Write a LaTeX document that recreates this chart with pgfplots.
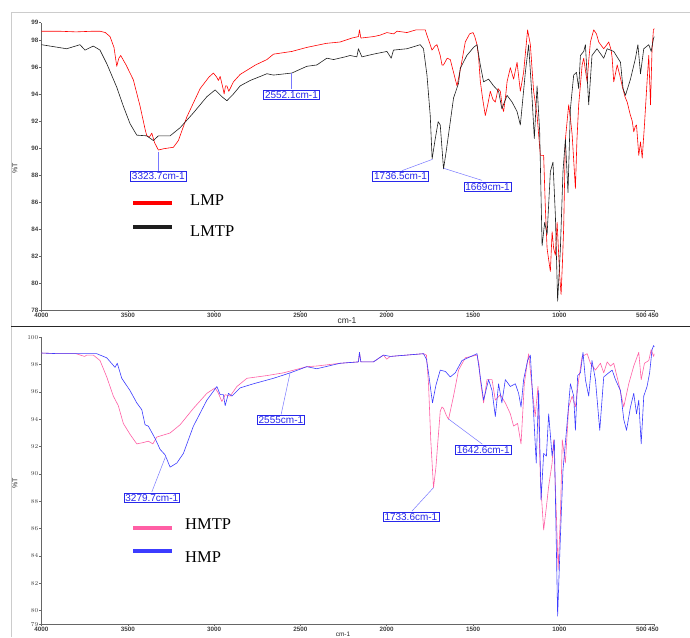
\documentclass[border=0pt]{standalone}
\usepackage{pgfplots}
\pgfplotsset{compat=1.18}
\usepackage{pgfplotstable}
\usepackage{fontspec}
\setmainfont{Liberation Sans}
\newfontfamily\legfont{Liberation Serif}

\definecolor{lmp}{RGB}{255,0,0}
\definecolor{lmtp}{RGB}{30,30,30}
\definecolor{hmtp}{RGB}{255,95,165}
\definecolor{hmp}{RGB}{60,60,255}
\definecolor{annot}{RGB}{40,40,235}
\definecolor{leader}{RGB}{120,120,255}

% top panel, LMP (red)
\pgfplotstableread{
wn T
4000 98.65
3900 98.65
3800 98.6
3700 98.65
3661 98.65
3630 98.55
3603 98.25
3580 97.45
3564 96.05
3552 96.65
3541 96.85
3510 96.15
3468 95.05
3429 93.1
3400 91.4
3390 90.9
3375 90.8
3361 91.1
3345 90.4
3323 89.85
3290 89.95
3236 90.05
3207 90.55
3158 92.3
3081 94.4
3030 95.25
3004 95.55
2985 95.25
2975 95.0
2965 95.3
2950 94.5
2942 94.0
2934 94.6
2926 94.6
2915 94.2
2907 94.4
2888 94.9
2849 95.45
2760 96.15
2694 96.55
2656 96.95
2550 97.15
2463 97.45
2350 97.75
2270 97.85
2200 98.15
2164 98.25
2158 98.75
2150 98.15
2144 98.15
2077 98.25
2040 98.35
1999 98.55
1960 98.45
1940 98.65
1883 98.55
1830 98.75
1796 98.75
1777 98.75
1767 98.35
1748 97.65
1738 97.25
1720 97.55
1709 97.65
1690 96.85
1680 96.15
1671 96.15
1650 96.65
1632 96.55
1610 95.45
1593 94.6
1570 96.05
1545 97.85
1520 98.45
1500 98.55
1490 98.25
1477 97.65
1468 96.75
1458 94.95
1445 93.7
1429 92.4
1415 93.2
1400 94.2
1385 93.6
1371 93.4
1355 94.4
1342 94.2
1330 93.0
1323 92.7
1310 94.0
1303 94.9
1284 95.95
1265 95.1
1245 96.35
1226 94.2
1207 95.6
1195 97.25
1184 98.75
1168 97.65
1149 94.2
1129 92.4
1110 89.45
1091 89.45
1081 85.5
1071 82.55
1060 81.55
1052 80.85
1042 83.8
1033 82.55
1023 82.05
1013 84.5
998 80.55
990 79.15
982 81.55
975 84.1
965 90.65
946 93.2
936 92.2
926 91.0
907 87.0
898 90.65
888 93.2
868 96.15
859 96.65
849 95.75
839 94.9
830 96.45
820 97.85
801 98.75
785 98.45
772 97.85
755 97.55
743 97.35
725 97.65
714 97.85
700 97.25
694 96.65
685 94.9
675 95.5
665 96.15
650 95.4
636 94.6
620 93.8
607 93.4
590 92.5
578 92.0
569 91.2
560 91.6
553 91.7
540 89.45
530 90.45
520 89.25
507 91.7
492 94.9
482 96.85
472 93.2
463 97.35
455 98.75
450 98.85
}\lmpdata

% top panel, LMTP (black)
\pgfplotstableread{
wn T
4000 97.65
3854 97.35
3777 97.65
3748 97.25
3700 97.55
3661 97.25
3622 96.25
3564 94.5
3526 93.1
3487 91.8
3448 90.95
3390 90.9
3352 90.55
3323 90.9
3255 90.9
3197 91.5
3120 92.6
3042 93.8
2994 94.3
2955 93.8
2926 93.5
2888 94.0
2849 94.6
2791 95.0
2752 95.2
2694 95.5
2656 95.4
2550 95.55
2463 96.05
2405 96.15
2347 96.65
2308 96.55
2241 96.75
2212 96.85
2173 96.75
2164 97.35
2144 96.75
2077 96.95
1999 97.15
1974 96.65
1961 97.25
1883 97.35
1806 97.65
1787 97.35
1767 95.4
1748 92.4
1737 89.2
1720 90.6
1702 91.95
1690 91.7
1671 88.45
1655 89.8
1642 91.0
1613 93.7
1584 94.8
1574 95.9
1536 96.85
1497 97.45
1477 97.65
1458 96.15
1439 94.9
1410 95.1
1381 94.6
1352 94.2
1333 92.9
1303 93.9
1274 93.4
1245 92.7
1226 91.7
1197 95.6
1178 97.65
1158 93.7
1145 90.7
1129 94.6
1114 91.2
1100 82.75
1085 84.5
1071 83.6
1052 88.25
1037 88.95
1023 85.0
1010 78.65
994 82.55
979 88.25
965 90.65
950 86.7
936 92.9
917 95.4
901 95.6
888 94.4
878 96.85
859 97.15
849 97.65
830 93.2
811 96.85
782 97.35
743 96.65
723 97.35
685 97.15
646 96.35
631 94.4
617 93.9
588 95.1
559 96.65
545 97.65
530 95.5
511 97.35
482 97.65
468 97.15
454 98.15
450 98.25
}\lmtpdata

% bottom panel, HMTP (pink)
\pgfplotstableread{
wn T
4000 98.85
3900 98.8
3800 98.8
3750 98.6
3738 98.7
3700 98.7
3661 98.3
3622 97.1
3584 95.7
3555 95.0
3526 93.7
3487 92.9
3448 92.2
3410 92.3
3381 92.4
3355 92.2
3332 92.7
3255 93.0
3197 93.6
3120 94.8
3042 95.9
2994 96.3
2975 95.9
2955 95.3
2936 95.8
2907 95.7
2868 96.4
2810 97.0
2694 97.2
2598 97.4
2463 97.85
2405 97.9
2270 98.1
2164 98.2
2158 98.9
2150 98.2
2077 98.2
2019 98.7
2000 98.4
1980 98.6
1883 98.7
1787 98.8
1770 98.7
1758 96.6
1745 92.5
1729 89.0
1715 90.5
1706 92.0
1690 94.6
1680 94.9
1671 94.8
1655 94.3
1642 94.0
1613 95.7
1584 97.6
1545 98.5
1477 98.7
1465 98.0
1458 96.9
1439 95.2
1419 96.9
1390 96.9
1371 95.4
1342 95.8
1313 95.2
1284 94.4
1265 93.5
1242 93.7
1222 92.2
1203 96.6
1178 98.8
1153 95.7
1140 94.2
1124 96.4
1110 89.6
1091 85.9
1075 87.6
1062 89.1
1042 90.8
1033 92.5
1017 86.9
1007 83.0
994 86.9
983 92.5
965 90.8
946 94.9
926 95.7
907 94.9
888 96.9
868 98.6
839 98.8
820 98.1
791 97.6
762 98.1
743 97.4
723 98.2
704 97.9
685 98.1
656 96.6
627 94.9
598 96.6
569 97.9
540 98.9
526 96.9
507 98.1
482 98.3
468 99.1
454 98.6
450 98.8
}\hmtpdata

% bottom panel, HMP (blue)
\pgfplotstableread{
wn T
4000 98.85
3900 98.8
3800 98.8
3680 98.8
3622 98.5
3574 97.8
3561 98.1
3535 97.0
3487 96.1
3448 95.2
3419 94.7
3400 93.6
3381 93.5
3342 92.6
3313 91.8
3284 91.4
3255 90.5
3216 90.8
3178 91.5
3120 93.5
3042 95.4
2984 96.4
2965 95.8
2946 95.8
2936 95.0
2917 95.9
2897 95.7
2849 96.3
2772 96.6
2656 97.0
2559 97.4
2463 97.85
2405 97.7
2270 98.1
2164 98.2
2158 98.9
2150 98.2
2077 98.2
2019 98.7
1980 98.6
1883 98.7
1787 98.8
1770 98.4
1758 97.4
1735 95.2
1715 96.5
1690 97.6
1660 97.5
1632 97.1
1603 97.4
1564 98.3
1477 98.8
1458 97.1
1439 95.4
1410 96.9
1390 96.1
1371 94.2
1352 96.6
1333 95.2
1313 96.9
1284 96.4
1255 96.6
1236 95.9
1222 94.9
1207 96.9
1184 98.3
1168 98.7
1149 94.4
1134 90.8
1120 96.1
1106 88.1
1091 91.5
1075 91.3
1062 94.4
1042 91.3
1029 92.5
1010 79.6
994 85.4
979 90.3
960 93.0
936 96.6
917 95.7
907 93.2
894 97.2
878 97.4
863 98.9
849 96.9
830 95.7
811 98.3
791 96.9
766 93.2
743 97.1
714 97.4
694 97.6
675 96.9
646 96.1
627 94.0
611 93.2
588 94.9
569 95.9
553 94.4
540 95.4
526 92.2
511 95.7
492 96.4
477 97.4
463 99.1
454 99.4
450 99.3
}\hmpdata

\pgfplotsset{
  irstyle/.style={
    scale only axis, width=612.8pt, height=287.3pt,
    anchor=south west,
    x dir=reverse, xmin=450, xmax=4000,
    axis x line*=bottom, axis y line*=left,
    xtick pos=left, ytick pos=left,
    axis line style={black!60, line width=0.6pt},
    tick align=outside, major tick length=2pt,
    tick style={black!60, line width=0.5pt},
    xtick={4000,3500,3000,2500,2000,1500,1000,500,450},
    xticklabels={4000,3500,3000,2500,2000,1500,1000,{\kern2pt\llap{500}},{450\kern2pt}},
    tick label style={font=\fontsize{6.3}{7}\selectfont\bfseries, text=black!75},
    xticklabel style={inner sep=1pt},
    yticklabel style={inner sep=1pt},
    every axis plot/.append style={line width=0.6pt, line join=round},
  },
}
\tikzset{
  ann/.style={draw=annot, fill=white, text=annot, font=\fontsize{10}{11}\selectfont,
    inner xsep=1.5pt, inner ysep=1.2pt, line width=0.5pt},
  lead/.style={draw=leader, line width=0.5pt},
}

\begin{document}
\begin{tikzpicture}
\useasboundingbox (0pt,0pt) rectangle (690pt,637pt);
\draw[black!20, line width=0.6pt] (11pt,0pt) -- (11pt,625pt) -- (690pt,625pt);
\draw[black!85, line width=1.2pt] (11pt,310.3pt) -- (690pt,310.3pt);

% top panel
\begin{axis}[irstyle, at={(41.5pt,327pt)}, ymin=78, ymax=99.28,
    ytick={78,80,82,84,86,88,90,92,94,96,98,99.28},
    yticklabels={78,80,82,84,86,88,90,92,94,96,98,99}]
  \addplot[lmp] table[x=wn, y=T] {\lmpdata};
  \addplot[lmtp] table[x=wn, y=T] {\lmtpdata};
  \draw[lead] (axis cs:3323,89.73) -- (axis cs:3323,88.33);
  \node[ann] at (axis cs:3323,87.89) {3323.7cm-1};
  \draw[lead] (axis cs:2552,95.56) -- (axis cs:2552,94.35);
  \node[ann] at (axis cs:2552,93.93) {2552.1cm-1};
  \draw[lead] (axis cs:1735,89.16) -- (axis cs:1912,88.32);
  \node[ann] at (axis cs:1920,87.89) {1736.5cm-1};
  \draw[lead] (axis cs:1671,88.5) -- (axis cs:1448,87.6);
  \node[ann] at (axis cs:1416,87.13) {1669cm-1};
\end{axis}

% bottom panel
\begin{axis}[irstyle, at={(41.5pt,12.7pt)}, height=287pt, ymin=79, ymax=100,
    ytick={79,80,82,84,86,88,90,92,94,96,98,100}]
  \addplot[hmtp] table[x=wn, y=T] {\hmtpdata};
  \addplot[hmp] table[x=wn, y=T] {\hmpdata};
  \draw[lead] (axis cs:3282,91.25) -- (axis cs:3361,88.68);
  \node[ann] at (axis cs:3361,88.26) {3279.7cm-1};
  \draw[lead] (axis cs:2559,97.46) -- (axis cs:2612,94.34);
  \node[ann] at (axis cs:2613,93.96) {2555cm-1};
  \draw[lead] (axis cs:1729,89.0) -- (axis cs:1854,87.28);
  \node[ann] at (axis cs:1860,86.88) {1733.6cm-1};
  \draw[lead] (axis cs:1642,94.02) -- (axis cs:1446,92.18);
  \node[ann] at (axis cs:1441,91.78) {1642.6cm-1};
\end{axis}

% axis titles
\node[rotate=90, font=\fontsize{7}{8}\selectfont, text=black!85] at (15pt,469pt) {\%T};
\node[rotate=90, font=\fontsize{7}{8}\selectfont, text=black!85] at (15pt,154pt) {\%T};
\node[font=\fontsize{8.5}{9}\selectfont, text=black!85] at (347pt,316pt) {cm-1};
\node[font=\fontsize{6.5}{7}\selectfont, text=black!85, inner sep=0pt] at (343pt,3pt) {cm-1};

% legends
\draw[lmp, line width=4pt] (133.3pt,433.7pt) -- (172.3pt,433.7pt);
\node[anchor=west, font=\legfont\fontsize{16.5}{18}\selectfont, inner sep=0pt] at (190pt,437pt) {LMP};
\draw[lmtp, line width=4pt] (133.3pt,410.3pt) -- (172.3pt,410.3pt);
\node[anchor=west, font=\legfont\fontsize{16.5}{18}\selectfont, inner sep=0pt] at (190pt,406pt) {LMTP};
\draw[hmtp, line width=4pt] (133.3pt,109.3pt) -- (172.3pt,109.3pt);
\node[anchor=west, font=\legfont\fontsize{16.5}{18}\selectfont, inner sep=0pt] at (185pt,113pt) {HMTP};
\draw[hmp, line width=4pt] (133.3pt,86pt) -- (172.3pt,86pt);
\node[anchor=west, font=\legfont\fontsize{16.5}{18}\selectfont, inner sep=0pt] at (185pt,80pt) {HMP};
\end{tikzpicture}
\end{document}
